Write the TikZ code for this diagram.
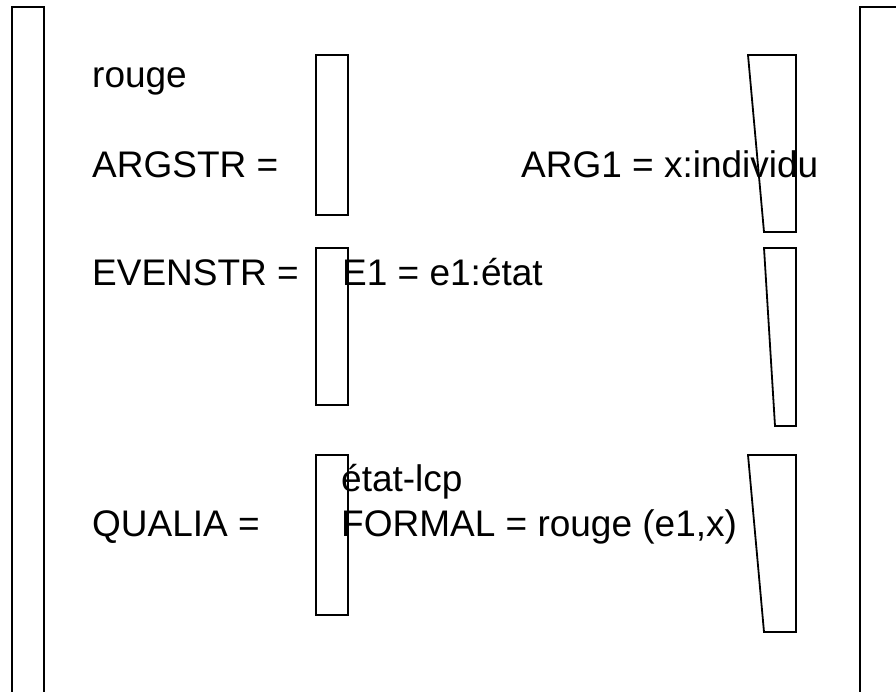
\documentclass[tikz,border=0pt]{standalone}
\usepackage{fontspec}
\setmainfont{Liberation Sans}
\begin{document}
\begin{tikzpicture}[x=1pt,y=-1pt,
  frame/.style={draw=black,line width=2pt},
  bracket/.style={draw=black,line width=1.8pt,line join=miter},
  lbl/.style={anchor=base west,inner sep=0pt,font=\fontsize{37}{44}\selectfont}]
\useasboundingbox[fill=white] (0,0) rectangle (896,692);
% outer brackets of the feature structure
\draw[frame] (12,700) -- (12,7) -- (44,7) -- (44,700);
\draw[frame] (860,700) -- (860,7) -- (900,7);
% inner left brackets
\draw[bracket] (316,55) rectangle (348,215);
\draw[bracket] (316,248) rectangle (348,405);
\draw[bracket] (316,455) rectangle (348,615);
% inner right brackets
\draw[bracket] (748,55) -- (796,55) -- (796,232) -- (764,232) -- cycle;
\draw[bracket] (764,248) -- (796,248) -- (796,426) -- (775,426) -- cycle;
\draw[bracket] (748,455) -- (796,455) -- (796,632) -- (764,632) -- cycle;
% labels
\node[lbl] (head) at (92,88) {rouge};
\node[lbl] (argstr) at (92,178) {ARGSTR =};
\node[lbl] (arg1) at (521,178) {ARG1 = x:individu};
\node[lbl] (evenstr) at (92,286) {EVENSTR =};
\node[lbl] (e1) at (342,286) {E1 = e1:état};
\node[lbl] (lcp) at (341,491) {état-lcp};
\node[lbl] (formal) at (341,536) {FORMAL = rouge (e1,x)};
\node[lbl] (qualia) at (92,536) {QUALIA =};
\end{tikzpicture}
\end{document}
